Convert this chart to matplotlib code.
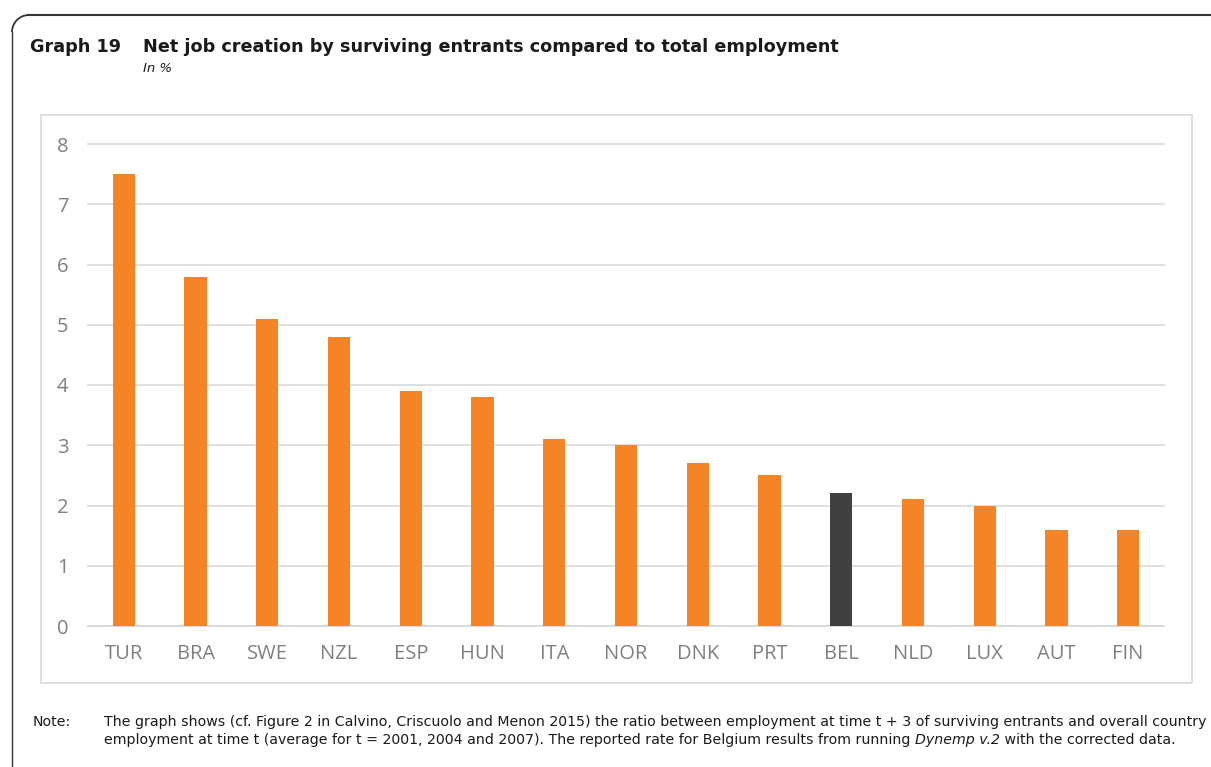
import matplotlib
matplotlib.use("Agg")
import matplotlib.pyplot as plt
from matplotlib.patches import Rectangle, Arc
from matplotlib.lines import Line2D

countries = ["TUR", "BRA", "SWE", "NZL", "ESP", "HUN", "ITA", "NOR", "DNK", "PRT",
             "BEL", "NLD", "LUX", "AUT", "FIN"]
values = [7.5, 5.8, 5.1, 4.8, 3.9, 3.8, 3.1, 3.0, 2.7, 2.5, 2.2, 2.1, 2.0, 1.6, 1.6]
highlight = "BEL"
yticks = [0, 1, 2, 3, 4, 5, 6, 7, 8]

orange = "#F58426"
dark = "#404040"
W, H = 1211, 767

fig = plt.figure(figsize=(W / 100, H / 100), dpi=100)

# outer frame: rounded top-left corner, top and left edges only
fig.add_artist(Line2D([28 / W, 1 + 0.01], [1 - 15 / H, 1 - 15 / H], color="#333333", lw=1.5))
fig.add_artist(Line2D([12 / W, 12 / W], [1 - 32 / H, -0.01], color="#333333", lw=1.0))
fig.add_artist(Arc((29 / W, 1 - 32 / H), 34 / W, 34 / H, theta1=90, theta2=180,
                   color="#333333", lw=1.3))

# chart box
fig.add_artist(Rectangle((41 / W, 1 - 683 / H), (1192 - 41) / W, (683 - 115) / H,
                         fill=False, edgecolor="#D9D9D9", lw=1.2))

fig.text(30 / W, 1 - 47 / H, "Graph 19", fontsize=12.7, fontweight="bold", va="center",
         family="DejaVu Sans", color="#1a1a1a")
fig.text(143 / W, 1 - 47 / H, "Net job creation by surviving entrants compared to total employment",
         fontsize=12.7, fontweight="bold", va="center", family="DejaVu Sans", color="#1a1a1a")
fig.text(143 / W, 1 - 68 / H, "In %", fontsize=9.5, style="italic", va="center",
         family="DejaVu Sans", color="#1a1a1a")

ax = fig.add_axes([88 / W, 141 / H, (1164 - 88) / W, (626 - 144) / H])
x = range(len(countries))
colors = [dark if c == highlight else orange for c in countries]
ax.bar(x, values, width=0.31, color=colors, zorder=3)
ax.set_xlim(-0.5, len(countries) - 0.5)
ax.set_ylim(0, 8)
ax.set_yticks(yticks)
ax.set_xticks(list(x))
ax.set_xticklabels(countries)
ax.grid(axis="y", color="#D9D9D9", lw=1.2, zorder=0)
for s in ["top", "right", "left"]:
    ax.spines[s].set_visible(False)
ax.spines["bottom"].set_color("#D9D9D9")
ax.spines["bottom"].set_linewidth(1.2)
ax.tick_params(axis="both", length=0, labelsize=14.5, labelcolor="#7F7F7F")
ax.tick_params(axis="y", pad=14)
ax.tick_params(axis="x", pad=13)
for lab in ax.get_xticklabels() + ax.get_yticklabels():
    lab.set_family("Open Sans")
for gl in ax.get_ygridlines():
    gl.set_clip_on(False)

note_font = dict(fontsize=10.2, family="DejaVu Sans", color="#1a1a1a", va="center")
fig.text(33 / W, 1 - 722 / H, "Note:", **note_font)
fig.text(104 / W, 1 - 722 / H,
         "The graph shows (cf. Figure 2 in Calvino, Criscuolo and Menon 2015) the ratio between "
         "employment at time t + 3 of surviving entrants and overall country", **note_font)

# second line: plain text, italic model name, plain text
renderer = fig.canvas.get_renderer()
xpos = 104
for part, st in [("employment at time t (average for t = 2001, 2004 and 2007). The reported rate for "
                  "Belgium results from running ", "normal"),
                 ("Dynemp v.2", "italic"),
                 (" with the corrected data.", "normal")]:
    t = fig.text(xpos / W, 1 - 740 / H, part, style=st, **note_font)
    xpos += t.get_window_extent(renderer).width

fig.savefig("out.png", dpi=100)
